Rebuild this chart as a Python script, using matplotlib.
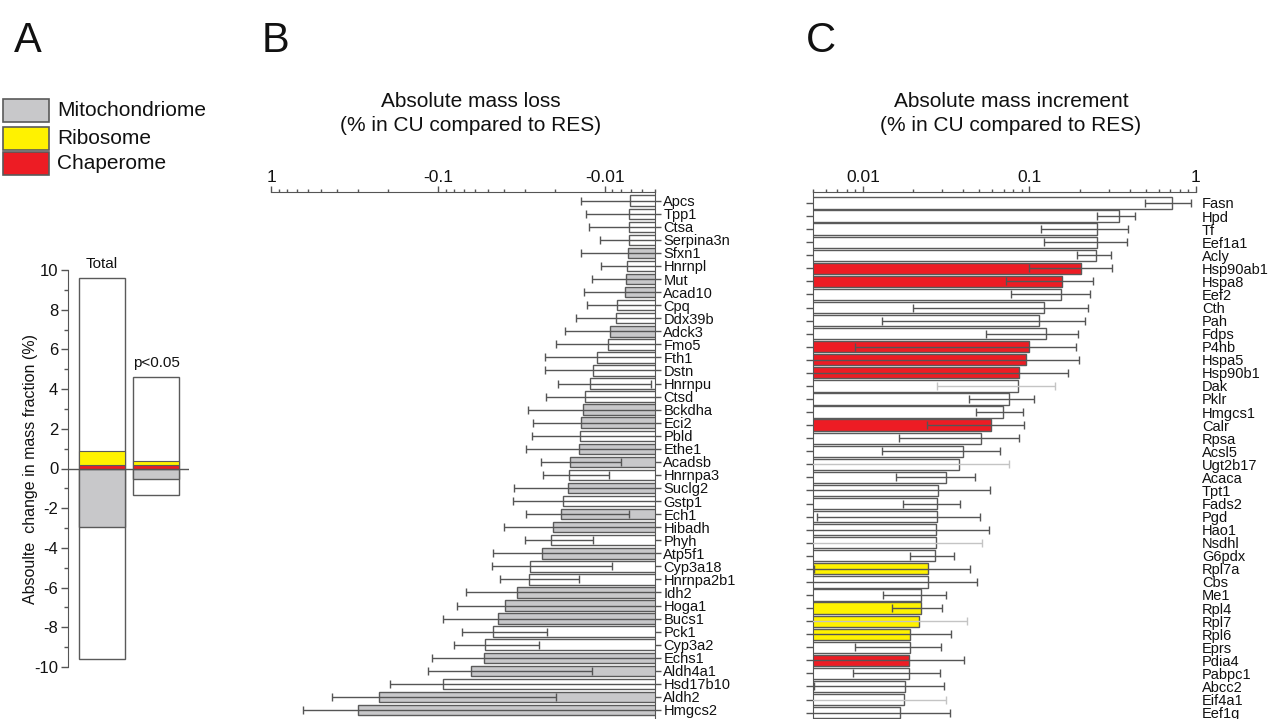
import numpy as np
import matplotlib
matplotlib.use('Agg')
import matplotlib.pyplot as plt
from matplotlib.ticker import FixedLocator, FixedFormatter, LogLocator, NullFormatter, MultipleLocator
from matplotlib.patches import Rectangle

plt.rcParams['font.family'] = ['Liberation Sans', 'DejaVu Sans']
plt.rcParams['axes.unicode_minus'] = False

# ---------------- data ----------------
# Panel A
a_groups = ['Total', 'p<0.05']
a_up_total = [9.6, 4.6]
a_down_total = [-9.6, -1.34]
a_mito = [-2.95, -0.52]
a_chap = [0.20, 0.16]
a_ribo = [0.70, 0.23]
legend_labels = ['Mitochondriome', 'Ribosome', 'Chaperome']

# Panel B  (absolute mass loss, magnitudes)
b_genes = ['Apcs', 'Tpp1', 'Ctsa', 'Serpina3n', 'Sfxn1', 'Hnrnpl', 'Mut', 'Acad10', 'Cpq', 'Ddx39b',
           'Adck3', 'Fmo5', 'Fth1', 'Dstn', 'Hnrnpu', 'Ctsd', 'Bckdha', 'Eci2', 'Pbld', 'Ethe1',
           'Acadsb', 'Hnrnpa3', 'Suclg2', 'Gstp1', 'Ech1', 'Hibadh', 'Phyh', 'Atp5f1', 'Cyp3a18', 'Hnrnpa2b1',
           'Idh2', 'Hoga1', 'Bucs1', 'Pck1', 'Cyp3a2', 'Echs1', 'Aldh4a1', 'Hsd17b10', 'Aldh2', 'Hmgcs2']
b_loss = [0.00705, 0.0072, 0.0072, 0.0072, 0.0073, 0.0074, 0.0075, 0.0076, 0.0084, 0.0086,
          0.0093, 0.0095, 0.0111, 0.0118, 0.0122, 0.0131, 0.0135, 0.0139, 0.0141, 0.0143,
          0.0161, 0.0164, 0.0167, 0.0178, 0.0184, 0.0203, 0.0209, 0.0238, 0.0282, 0.0284,
          0.0336, 0.0394, 0.0437, 0.0468, 0.0525, 0.0530, 0.0631, 0.0933, 0.226, 0.302]
b_sd = [0.0068, 0.0057, 0.0052, 0.0035, 0.0066, 0.0032, 0.0044, 0.0058, 0.0044, 0.0063,
        0.0079, 0.0102, 0.0118, 0.0110, 0.0069, 0.0095, 0.0152, 0.0129, 0.0133, 0.0152,
        0.0081, 0.0070, 0.0183, 0.0177, 0.0112, 0.0199, 0.0092, 0.0232, 0.0192, 0.0141,
        0.0343, 0.0375, 0.0496, 0.0247, 0.0277, 0.0560, 0.0512, 0.0997, 0.2065, 0.341]
b_mito = ['Sfxn1', 'Mut', 'Acad10', 'Adck3', 'Bckdha', 'Eci2', 'Ethe1', 'Acadsb', 'Suclg2', 'Ech1',
          'Hibadh', 'Atp5f1', 'Idh2', 'Hoga1', 'Bucs1', 'Echs1', 'Aldh4a1', 'Aldh2', 'Hmgcs2']

# Panel C  (absolute mass increment)
c_genes = ['Fasn', 'Hpd', 'Tf', 'Eef1a1', 'Acly', 'Hsp90ab1', 'Hspa8', 'Eef2', 'Cth', 'Pah',
           'Fdps', 'P4hb', 'Hspa5', 'Hsp90b1', 'Dak', 'Pklr', 'Hmgcs1', 'Calr', 'Rpsa', 'Acsl5',
           'Ugt2b17', 'Acaca', 'Tpt1', 'Fads2', 'Pgd', 'Hao1', 'Nsdhl', 'G6pdx', 'Rpl7a', 'Cbs',
           'Me1', 'Rpl4', 'Rpl7', 'Rpl6', 'Eprs', 'Pdia4', 'Pabpc1', 'Abcc2', 'Eif4a1', 'Eef1g']
c_gain = [0.714, 0.343, 0.255, 0.255, 0.252, 0.205, 0.156, 0.155, 0.1225, 0.114,
          0.125, 0.100, 0.0959, 0.0871, 0.0855, 0.0751, 0.0694, 0.0586, 0.0514, 0.0397,
          0.0379, 0.0316, 0.0284, 0.0280, 0.0278, 0.0276, 0.0275, 0.0272, 0.0245, 0.0246,
          0.0224, 0.0224, 0.0218, 0.0193, 0.0193, 0.0190, 0.0188, 0.0179, 0.0176, 0.0166]
c_sd = [0.223, 0.089, 0.137, 0.132, 0.058, 0.106, 0.084, 0.077, 0.1025, 0.101,
        0.070, 0.091, 0.103, 0.084, 0.0575, 0.0316, 0.0218, 0.0343, 0.0349, 0.0266,
        0.0376, 0.0157, 0.0293, 0.0105, 0.0225, 0.0296, 0.0244, 0.0080, 0.0194, 0.0239,
        0.0092, 0.0075, 0.0204, 0.0147, 0.0103, 0.0215, 0.0101, 0.0128, 0.0138, 0.0166]
c_chap = ['Hsp90ab1', 'Hspa8', 'P4hb', 'Hspa5', 'Hsp90b1', 'Calr', 'Pdia4']
c_ribo = ['Rpl7a', 'Rpl4', 'Rpl7', 'Rpl6']
c_faint = ['Dak', 'Ugt2b17', 'Nsdhl', 'Rpl7', 'Eif4a1']

# ---------------- style ----------------
GRAY = '#c8c8ca'
YELLOW = '#fff200'
RED = '#ed1c24'
EDGE = '#5a5a5a'
AXC = '#555555'
TXT = '#111111'
W, H = 1275, 719

fig = plt.figure(figsize=(W / 100, H / 100), dpi=100)

def fx(px):
    return px / W

def fy(py):
    return 1 - py / H

# panel letters
for lbl, xp in [('A', 14), ('B', 262), ('C', 806)]:
    fig.text(fx(xp), fy(52), lbl, fontsize=30, color=TXT, va='baseline', ha='left')

# legend (panel A)
leg_colors = [GRAY, YELLOW, RED]
leg_boxes = [(99, 122), (127, 150), (152, 175)]
for (y0, y1), col, lab in zip(leg_boxes, leg_colors, legend_labels):
    fig.add_artist(Rectangle((fx(3), fy(y1)), fx(46), (y1 - y0) / H, transform=fig.transFigure,
                             facecolor=col, edgecolor=EDGE, lw=1.2))
    fig.text(fx(57), fy((y0 + y1) / 2), lab, fontsize=15, va='center', ha='left', color=TXT)

# ---------------- Panel A ----------------
axA = fig.add_axes([fx(68), fy(667), fx(121), (667 - 270) / H])
xa = np.arange(len(a_groups))
bw = 0.84
axA.bar(xa, a_up_total, width=bw, color='white', edgecolor=EDGE, lw=1, zorder=2)
axA.bar(xa, a_down_total, width=bw, color='white', edgecolor=EDGE, lw=1, zorder=2)
axA.bar(xa, a_mito, width=bw, color=GRAY, edgecolor=EDGE, lw=1, zorder=3)
axA.bar(xa, a_chap, width=bw, color=RED, edgecolor=EDGE, lw=0.8, zorder=3)
axA.bar(xa, a_ribo, width=bw, bottom=a_chap, color=YELLOW, edgecolor=EDGE, lw=0.8, zorder=3)
axA.axhline(0, color=AXC, lw=1, zorder=4)
for xi, top, lab in zip(xa, a_up_total, a_groups):
    axA.text(xi, top + 0.35, lab, ha='center', va='bottom', fontsize=11, color=TXT)
axA.set_xlim(-0.62, 1.6)
axA.set_ylim(-10, 10)
axA.yaxis.set_major_locator(MultipleLocator(2))
axA.yaxis.set_minor_locator(MultipleLocator(1))
axA.tick_params(axis='y', which='major', length=5, width=1, color=AXC, labelsize=12, pad=2, labelcolor=TXT)
axA.tick_params(axis='y', which='minor', length=3, width=1, color=AXC)
axA.set_xticks([])
for s in ['top', 'right', 'bottom']:
    axA.spines[s].set_visible(False)
axA.spines['left'].set_color(AXC)
axA.set_ylabel('Absoulte  change in mass fraction (%)', fontsize=11.5, color=TXT, labelpad=4)
axA.yaxis.set_label_coords(-0.25, 0.5)

# ---------------- Panel B ----------------
nb = len(b_genes)
yb = np.arange(nb)
axB = fig.add_axes([fx(271), 0, fx(384), (719 - 192) / H])
axB.set_xscale('log')
base = 1e-4
b_cols = [GRAY if g in b_mito else 'white' for g in b_genes]
axB.barh(yb, [v - base for v in b_loss], left=base, height=0.8, color=b_cols,
         edgecolor=EDGE, lw=1, zorder=2)
b_low = [v - max(v - s, base) for v, s in zip(b_loss, b_sd)]
axB.errorbar(b_loss, yb, xerr=[b_low, b_sd], fmt='none', ecolor=AXC, elinewidth=1,
             capsize=3.2, capthick=1, zorder=3)
axB.set_xlim(1, 0.005)
axB.set_ylim(39.69, -0.666)
axB.xaxis.set_ticks_position('top')
axB.xaxis.set_major_locator(FixedLocator([1, 0.1, 0.01]))
axB.xaxis.set_major_formatter(FixedFormatter(['1', '-0.1', '-0.01']))
axB.xaxis.set_minor_locator(LogLocator(base=10, subs=np.arange(2, 10), numticks=20))
axB.xaxis.set_minor_formatter(NullFormatter())
axB.tick_params(axis='x', which='major', length=4, width=1, color=AXC, labelsize=12.5, pad=1, labelcolor=TXT)
axB.tick_params(axis='x', which='minor', length=2.4, width=1, color=AXC)
axB.yaxis.set_ticks_position('right')
axB.set_yticks(yb)
axB.set_yticklabels(b_genes)
axB.tick_params(axis='y', length=4, width=1, color=AXC, labelsize=10.5, pad=2, labelcolor=TXT)
for s in ['left', 'bottom']:
    axB.spines[s].set_visible(False)
for s in ['top', 'right']:
    axB.spines[s].set_color(AXC)
fig.text(fx(471), fy(113.5), 'Absolute mass loss\n(% in CU compared to RES)', ha='center',
         va='center', fontsize=15, linespacing=1.35, color=TXT)

# ---------------- Panel C ----------------
nc = len(c_genes)
yc = np.arange(nc)
axC = fig.add_axes([fx(812.7), 0, fx(383.3), (719 - 192) / H])
axC.set_xscale('log')
c_cols = [RED if g in c_chap else (YELLOW if g in c_ribo else 'white') for g in c_genes]
axC.barh(yc, [v - base for v in c_gain], left=base, height=0.86, color=c_cols,
         edgecolor=EDGE, lw=1, zorder=2)
c_low = [v - max(v - s, base) for v, s in zip(c_gain, c_sd)]
for i, g in enumerate(c_genes):
    ec = '#c4c4c4' if g in c_faint else AXC
    axC.errorbar([c_gain[i]], [yc[i]], xerr=[[c_low[i]], [c_sd[i]]], fmt='none', ecolor=ec,
                 elinewidth=1, capsize=3.2, capthick=1, zorder=3)
axC.set_xlim(0.005, 1)
axC.set_ylim(39.49, -0.84)
axC.xaxis.set_ticks_position('top')
axC.xaxis.set_major_locator(FixedLocator([0.01, 0.1, 1]))
axC.xaxis.set_major_formatter(FixedFormatter(['0.01', '0.1', '1']))
axC.xaxis.set_minor_locator(LogLocator(base=10, subs=np.arange(2, 10), numticks=20))
axC.xaxis.set_minor_formatter(NullFormatter())
axC.tick_params(axis='x', which='major', length=4, width=1, color=AXC, labelsize=12.5, pad=1, labelcolor=TXT)
axC.tick_params(axis='x', which='minor', length=2.4, width=1, color=AXC)
axC.set_yticks(yc)
axC.set_yticklabels(c_genes)
axC.tick_params(axis='y', left=True, right=False, labelleft=False, labelright=True,
                length=5, width=1, color=AXC, labelsize=10.5, pad=-0.8, labelcolor=TXT)
for g, t in zip(c_genes, axC.yaxis.get_major_ticks()):
    if g in c_faint:
        t.tick1line.set_color('#c4c4c4')
for s in ['right', 'bottom']:
    axC.spines[s].set_visible(False)
for s in ['top', 'left']:
    axC.spines[s].set_color(AXC)
fig.text(fx(1011), fy(113.5), 'Absolute mass increment\n(% in CU compared to RES)', ha='center',
         va='center', fontsize=15, linespacing=1.35, color=TXT)

fig.savefig('out.png', dpi=100, facecolor='white')
